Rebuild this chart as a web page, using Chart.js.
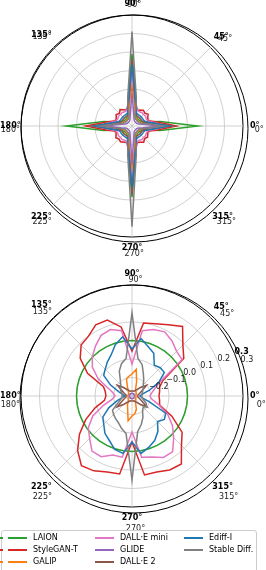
<!DOCTYPE html>
<html>
<head>
<meta charset="utf-8">
<script src="https://cdn.jsdelivr.net/npm/chart.js@4.4.0/dist/chart.umd.min.js"></script>
<style>
  html, body { margin: 0; padding: 0; background: #fff; width: 266px; height: 570px; overflow: hidden; }
  canvas { position: absolute; left: 0; }
  #top { top: 0; }
  #bottom { top: 262px; }
  .box { position: absolute; left: 1px; top: 530px; width: 256px; height: 60px; border: 1px solid #cccccc;
         border-radius: 3px; background: rgba(255,255,255,0.85); box-sizing: border-box; }
  .swatch { position: absolute; width: 19px; height: 0; border-top-width: 2px; border-top-style: solid; }
  .txt { position: absolute; font: 8px "DejaVu Sans"; line-height: 10px; height: 10px; white-space: nowrap; color: #000; }
</style>
</head>
<body>
<canvas id="top" width="266" height="262"></canvas>
<canvas id="bottom" width="266" height="270"></canvas>
<div class="box"></div>
<div id="legend"></div>
<script>
// polar angles of the samples (degrees, counter-clockwise from 0°)
const angles = [0, 9, 18, 27, 36, 45, 54, 63, 72, 81, 90, 99, 108, 117, 126, 135, 144, 153, 162, 171,
                180, 189, 198, 207, 216, 225, 234, 243, 252, 261, 270, 279, 288, 297, 306, 315, 324, 333, 342, 351];
const labelAngles = [0, 45, 90, 135, 180, 225, 270, 315];
const bottomTicks = [-0.2, -0.1, 0.0, 0.1, 0.2, 0.3];

const names = ['LAION', 'StyleGAN-T', 'GALIP', 'DALL·E mini', 'GLIDE', 'DALL·E 2', 'Ediff-I', 'Stable Diff.'];
const colors = ['#2ca02c', '#d62728', '#ff7f0e', '#e377c2', '#9467bd', '#8c564b', '#1f77b4', '#7f7f7f'];

// top panel (arbitrary radial units, 0..6)
const topLaion = [3.55,1.55,0.72,0.56,0.5,0.5,0.5,0.56,0.72,1.4,3.9,1.4,0.72,0.56,0.5,0.5,0.5,0.56,0.72,1.55,
                  3.55,1.55,0.72,0.56,0.5,0.5,0.5,0.56,0.72,1.4,3.85,1.4,0.72,0.56,0.5,0.5,0.5,0.56,0.72,1.55];
const topStyleGAN = [2.4,1.4,0.92,0.95,1.08,0.98,1.05,0.96,0.9,1.3,2.1,1.3,0.9,0.98,1.1,0.96,1.06,0.95,0.92,1.4,
                     2.5,1.4,0.92,0.96,1.08,1.0,1.06,0.98,0.9,1.3,2.2,1.3,0.92,0.98,1.08,0.96,1.04,0.95,0.92,1.4];
const topGalip = [1.4,0.85,0.55,0.46,0.44,0.44,0.44,0.46,0.55,1.0,2.5,1.0,0.55,0.46,0.44,0.44,0.44,0.46,0.55,0.85,
                  1.4,0.85,0.55,0.46,0.44,0.44,0.44,0.46,0.55,1.0,2.6,1.0,0.55,0.46,0.44,0.44,0.44,0.46,0.55,0.85];
const topDalleMini = [1.9,1.2,0.88,0.86,0.9,0.88,0.9,0.86,0.88,1.3,2.7,1.3,0.88,0.86,0.9,0.88,0.9,0.86,0.88,1.2,
                      1.9,1.2,0.88,0.86,0.9,0.88,0.9,0.86,0.88,1.3,2.9,1.3,0.88,0.86,0.9,0.88,0.9,0.86,0.88,1.2];
const topGlide = [1.5,0.6,0.36,0.3,0.28,0.28,0.28,0.3,0.36,0.62,1.8,0.62,0.36,0.3,0.28,0.28,0.28,0.3,0.36,0.6,
                  1.5,0.6,0.36,0.3,0.28,0.28,0.28,0.3,0.36,0.62,2.0,0.62,0.36,0.3,0.28,0.28,0.28,0.3,0.36,0.6];
const topDalle2 = [2.2,1.05,0.66,0.6,0.6,0.6,0.6,0.6,0.66,1.2,3.6,1.2,0.66,0.6,0.6,0.6,0.6,0.6,0.66,1.05,
                   2.2,1.05,0.66,0.6,0.6,0.6,0.6,0.6,0.66,1.2,3.7,1.2,0.66,0.6,0.6,0.6,0.6,0.6,0.66,1.05];
const topEdiff = [2.0,1.1,0.76,0.7,0.7,0.7,0.7,0.7,0.76,1.25,3.3,1.25,0.76,0.7,0.7,0.7,0.7,0.7,0.76,1.1,
                  2.0,1.1,0.76,0.7,0.7,0.7,0.7,0.7,0.76,1.25,3.3,1.25,0.76,0.7,0.7,0.7,0.7,0.7,0.76,1.1];
const topStable = [1.7,0.8,0.5,0.42,0.4,0.4,0.4,0.42,0.5,1.5,5.1,1.5,0.5,0.42,0.4,0.4,0.4,0.42,0.5,0.8,
                   1.7,0.8,0.5,0.42,0.4,0.4,0.4,0.42,0.5,1.5,5.45,1.5,0.5,0.42,0.4,0.4,0.4,0.42,0.5,0.8];

// bottom panel (-0.3 .. 0.3)
const botLaion = [0,0,0,0,0,0,0,0,0,0,0,0,0,0,0,0,0,0,0,0,0,0,0,0,0,0,0,0,0,0,0,0,0,0,0,0,0,0,0,0];
const botStyleGAN = [-0.154,-0.149,-0.143,-0.111,0.046,0.089,0.165,0.132,0.111,0.1,-0.057,0.078,0.132,0.132,0.1,0.089,0.046,-0.03,-0.138,-0.154,
                     -0.159,-0.149,-0.089,-0.019,0.051,0.116,0.165,0.154,0.132,0.127,-0.051,0.132,0.132,0.149,0.154,0.078,0.035,-0.057,-0.143,-0.149];
const botGalip = [-0.278,-0.278,-0.278,-0.273,-0.273,-0.268,-0.268,-0.257,-0.219,-0.154,-0.181,-0.192,-0.203,-0.246,-0.268,-0.273,-0.278,-0.278,-0.278,-0.278,
                  -0.278,-0.278,-0.278,-0.278,-0.273,-0.273,-0.268,-0.246,-0.224,-0.165,-0.192,-0.203,-0.224,-0.257,-0.268,-0.273,-0.273,-0.278,-0.278,-0.278];
const botDalleMini = [-0.203,-0.192,-0.17,-0.127,0.035,0.041,0.068,0.089,0.078,0.057,-0.127,0.057,0.078,0.068,0.035,0.003,-0.035,-0.095,-0.165,-0.197,
                      -0.208,-0.192,-0.138,-0.062,-0.008,0.024,0.068,0.068,0.035,0.035,-0.105,0.035,0.046,0.073,0.073,0.019,-0.03,-0.084,-0.149,-0.192];
const botGlide = [-0.286,-0.287,-0.285,-0.286,-0.288,-0.286,-0.285,-0.286,-0.287,-0.286,-0.284,-0.286,-0.287,-0.286,-0.285,-0.286,-0.288,-0.286,-0.285,-0.286,
                  -0.286,-0.287,-0.285,-0.286,-0.288,-0.286,-0.285,-0.286,-0.287,-0.286,-0.284,-0.286,-0.287,-0.286,-0.285,-0.286,-0.288,-0.286,-0.285,-0.286];
const botDalle2 = [-0.268,-0.268,-0.257,-0.241,-0.203,-0.235,-0.257,-0.268,-0.273,-0.273,-0.273,-0.273,-0.273,-0.268,-0.257,-0.235,-0.203,-0.241,-0.257,-0.268,
                   -0.268,-0.268,-0.257,-0.241,-0.201,-0.235,-0.257,-0.268,-0.273,-0.273,-0.273,-0.273,-0.273,-0.268,-0.257,-0.235,-0.201,-0.241,-0.257,-0.268];
const botEdiff = [-0.257,-0.246,-0.203,-0.138,-0.084,-0.084,-0.095,-0.041,-0.019,0.014,-0.046,0.024,-0.008,-0.051,-0.073,-0.095,-0.111,-0.17,-0.224,-0.251,
                  -0.262,-0.246,-0.214,-0.159,-0.105,-0.084,-0.051,-0.03,0.003,0.014,-0.051,0.014,-0.008,-0.03,-0.062,-0.105,-0.084,-0.095,-0.203,-0.246];
const botStable = [-0.246,-0.246,-0.241,-0.235,-0.224,-0.214,-0.192,-0.165,-0.122,-0.095,0.149,-0.095,-0.116,-0.149,-0.192,-0.214,-0.224,-0.23,-0.241,-0.246,
                   -0.246,-0.246,-0.235,-0.214,-0.17,-0.159,-0.149,-0.138,-0.116,-0.095,0.154,-0.105,-0.138,-0.17,-0.203,-0.214,-0.203,-0.214,-0.235,-0.246];

const topSeries = [topLaion, topStyleGAN, topGalip, topDalleMini, topGlide, topDalle2, topEdiff, topStable];
const botSeries = [botLaion, botStyleGAN, botGalip, botDalleMini, botGlide, botDalle2, botEdiff, botStable];

Chart.defaults.font.family = 'DejaVu Sans';

// radar goes clockwise from startAngle, so walk the angles backwards
const n = angles.length;
const order = angles.map((a, i) => (n - i) % n);

// angle labels, the doubled outer ring and r tick labels
const polarDecor = {
  id: 'polarDecor',
  afterDraw(chart, args, o) {
    const s = chart.scales.r, ctx = chart.ctx;
    const R = s.drawingArea, cx = s.xCenter, cy = s.yCenter;
    const W = chart.width;
    ctx.save();
    ctx.strokeStyle = '#000';
    ctx.lineWidth = 1;
    ctx.beginPath();
    ctx.arc(cx + o.ring[0], cy + o.ring[1], R + o.ring[2], 0, Math.PI * 2);
    ctx.stroke();

    ctx.textAlign = 'center';
    ctx.textBaseline = 'middle';
    labelAngles.forEach(a => {
      const idx = order.indexOf(angles.indexOf(a));
      const text = a + '°';
      const rad = a * Math.PI / 180, c = Math.cos(rad), sn = Math.sin(rad);
      ctx.font = 'bold 8px "DejaVu Sans"';
      const w = ctx.measureText(text).width;
      const p = s.getPointPosition(idx, R + 7 + Math.abs(c) * w / 2 + Math.abs(sn) * 4);
      const clampX = x => Math.min(Math.max(x, w / 2), W - w / 2);
      ctx.font = '8px "DejaVu Sans"';
      ctx.fillStyle = '#222';
      ctx.fillText(text, clampX(p.x + o.shift[0] + o.shift[2] * c), p.y + o.shift[1] - o.shift[3] * sn);
      ctx.font = 'bold 8px "DejaVu Sans"';
      ctx.fillStyle = '#000';
      ctx.fillText(text, clampX(p.x), p.y);
    });

    if (o.rTicks) {
      const t = 22.5 * Math.PI / 180;
      ctx.textAlign = 'left';
      ctx.textBaseline = 'alphabetic';
      o.rTicks.forEach(v => {
        const d = s.getDistanceFromCenterForValue(v);
        const x = cx + d * Math.cos(t), y = cy - d * Math.sin(t);
        const txt = v.toFixed(1).replace('-', '\u2212');
        const last = v === o.rTicks[o.rTicks.length - 1];
        ctx.fillStyle = '#222';
        ctx.font = '8px "DejaVu Sans"';
        ctx.fillText(txt, x + (last ? 6 : 0), y + (last ? 8 : 0));
        if (last) {
          ctx.fillStyle = '#000';
          ctx.font = 'bold 8px "DejaVu Sans"';
          ctx.fillText(txt, x, y);
        }
      });
    }
    ctx.restore();
  }
};

function makePolar(id, series, min, max, step, padding, deco) {
  return new Chart(document.getElementById(id), {
    type: 'radar',
    data: {
      labels: order.map(i => angles[i] + '°'),
      datasets: series.map((vals, k) => ({
        label: names[k],
        data: order.map(i => vals[i]),
        borderColor: colors[k],
        backgroundColor: 'transparent',
        borderWidth: 1.5,
        fill: false,
        pointRadius: 0,
        order: series.length - k
      }))
    },
    options: {
      responsive: false,
      animation: false,
      layout: { padding },
      elements: { line: { tension: 0 } },
      plugins: { legend: { display: false }, tooltip: { enabled: false }, polarDecor: deco },
      scales: {
        r: {
          min, max,
          startAngle: 90,
          ticks: { display: false, stepSize: step },
          pointLabels: { display: false },
          angleLines: {
            color: '#c4c4c4',
            lineWidth: c => (c.index % 5 === 0 ? 0.8 : 0)
          },
          grid: {
            circular: true,
            color: c => (Math.abs(c.tick.value - max) < 1e-6 ? '#000' : '#c4c4c4'),
            lineWidth: c => (Math.abs(c.tick.value - max) < 1e-6 ? 1 : 0.8)
          }
        }
      }
    },
    plugins: [polarDecor]
  });
}

makePolar('top', topSeries, 0, 6, 1, { left: 21, right: 23, top: 15, bottom: 25 },
          { ring: [2.5, 2.5, 2.5], shift: [2.25, 3.6, 2.25, 2.6] });
makePolar('bottom', botSeries, -0.3, 0.3, 0.1, { left: 21, right: 23, top: 23, bottom: 25 },
          { ring: [2, 3, 3], shift: [3.5, 8.5, 3.5, 2.5], rTicks: bottomTicks });

// legend, filled column by column like the original
const legend = document.getElementById('legend');
const colX = [8, 95, 184], rowY = [537.5, 549.5, 561.5];
names.forEach((name, k) => {
  const x = colX[Math.floor(k / 3)], y = rowY[k % 3];
  const sw = document.createElement('div');
  sw.className = 'swatch';
  sw.style.left = x + 'px';
  sw.style.top = (y - 1) + 'px';
  sw.style.borderTopColor = colors[k];
  const tx = document.createElement('div');
  tx.className = 'txt';
  tx.style.left = (x + 25) + 'px';
  tx.style.top = (y - 5) + 'px';
  tx.textContent = name;
  legend.appendChild(sw);
  legend.appendChild(tx);
  if (k < 3) {
    const stub = document.createElement('div');
    stub.className = 'swatch';
    stub.style.left = '0px';
    stub.style.width = '3px';
    stub.style.top = (y - 1) + 'px';
    stub.style.borderTopColor = colors[k];
    legend.appendChild(stub);
  }
});
</script>
</body>
</html>
